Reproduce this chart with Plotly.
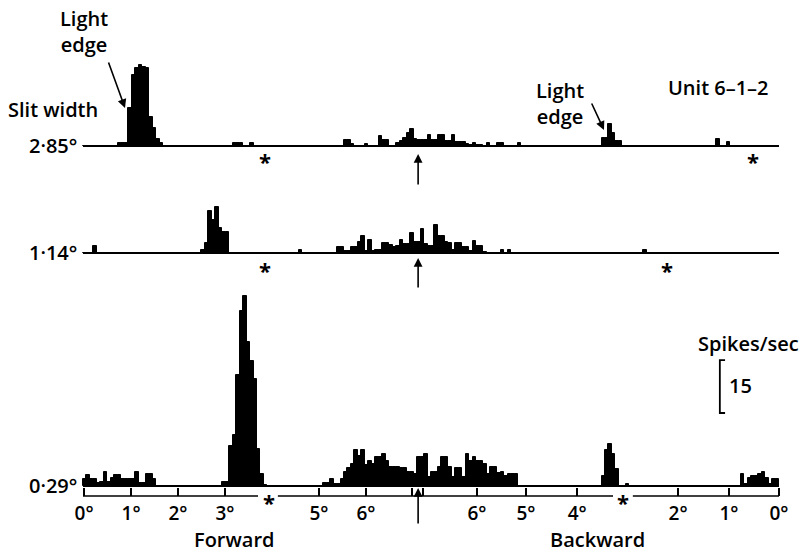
import plotly.graph_objects as go

# ---------------- data ----------------
N_BINS = 200
bins = list(range(N_BINS))

slit_labels = ["2·85°", "1·14°", "0·29°"]

# firing rate (spikes/sec) per time bin, forward sweep then backward sweep
rate_285 = [
    0, 0, 0, 0, 0, 0, 0, 0, 0, 0, 0.9, 0.9, 0.9, 10.8, 20, 22, 23, 22.5, 22, 8.2,
    5.1, 2, 0.9, 0, 0, 0, 0, 0, 0, 0, 0, 0, 0, 0, 0, 0, 0, 0, 0, 0,
    0, 0, 0, 0.9, 0.9, 0.9, 0, 0, 0.9, 0, 0, 0, 0, 0, 0, 0, 0, 0, 0, 0,
    0, 0, 0, 0, 0, 0, 0, 0, 0, 0, 0, 0, 0, 0, 0, 1.7, 1.7, 0.7, 0, 0,
    0, 0.7, 0, 0, 0, 2.8, 1.6, 1.6, 0, 0, 0.9, 1.5, 2.4, 3.8, 4.9, 1.9, 1.6, 1.6, 1.6, 3.0,
    1.6, 1.6, 3.0, 3.0, 1.4, 1.4, 3.0, 1.1, 1.1, 1.1, 0.7, 0.3, 0.9, 0.3, 0.3, 0, 0.9, 0, 0, 0.9,
    0.9, 0, 0, 0, 0, 0.9, 0, 0, 0, 0, 0, 0, 0, 0, 0, 0, 0, 0, 0, 0,
    0, 0, 0, 0, 0, 0, 0, 0, 0, 2.4, 2.4, 6.1, 3.8, 1.4, 1.4, 0, 0, 0, 0, 0,
    0, 0, 0, 0, 0, 0, 0, 0, 0, 0, 0, 0, 0, 0, 0, 0, 0, 0, 0, 0,
    0, 0, 2, 0, 0, 1, 0, 0, 0, 0, 0, 0, 0, 0, 0, 0, 0, 0, 0, 0,
]
rate_114 = [
    0, 0, 0, 1.9, 0, 0, 0, 0, 0, 0, 0, 0, 0, 0, 0, 0, 0, 0, 0, 0,
    0, 0, 0, 0, 0, 0, 0, 0, 0, 0, 0, 0, 0, 0, 0.9, 2.8, 11.9, 9.3, 13, 7.2,
    6, 6, 0, 0, 0, 0, 0, 0, 0, 0, 0, 0, 0, 0, 0, 0, 0, 0, 0, 0,
    0, 0, 0.8, 0, 0, 0, 0, 0, 0, 0, 0, 0, 0, 1.6, 1.6, 0.7, 0.7, 1.8, 1.8, 3.0,
    4.9, 0.5, 3.7, 0.7, 0.9, 0.9, 2.7, 2.7, 2.2, 1.8, 2.1, 3.7, 2.5, 2.5, 5.8, 3.0, 3.0, 6.8, 2.5, 2.1,
    2.1, 8, 4.9, 4.9, 3.0, 2.7, 0.9, 2.7, 2.7, 1.6, 1.8, 0.5, 3.5, 2.1, 2.1, 0.3, 0, 0, 0, 0,
    0.9, 0, 0.9, 0, 0, 0, 0, 0, 0, 0, 0, 0, 0, 0, 0, 0, 0, 0, 0, 0,
    0, 0, 0, 0, 0, 0, 0, 0, 0, 0, 0, 0, 0, 0, 0, 0, 0, 0, 0, 0,
    0, 0.9, 0, 0, 0, 0, 0, 0, 0, 0, 0, 0, 0, 0, 0, 0, 0, 0, 0, 0,
    0, 0, 0, 0, 0, 0, 0, 0, 0, 0, 0, 0, 0, 0, 0, 0, 0, 0, 0, 0,
]
rate_029 = [
    1.9, 3.0, 2.1, 2.1, 0.9, 1.1, 4.1, 1.1, 2.4, 3.1, 3.1, 1.9, 1.9, 1.9, 1.9, 4.1, 0.8, 0.8, 3.3, 3.3,
    2.1, 0, 0, 0, 0, 0, 0, 0, 0, 0, 0, 0, 0, 0, 0, 0, 0, 0, 0, 0,
    1.1, 1.1, 11.3, 14.4, 31.4, 49.6, 53.8, 40.8, 35.4, 30.4, 10.4, 3.3, 0.3, 0, 0, 0, 0, 0, 0, 0,
    0, 0, 0, 0, 0, 0, 0, 0, 0, 0.9, 0.9, 2.0, 0.5, 0.5, 1.9, 4.1, 5.0, 6.2, 10.2, 8.5,
    10.2, 6.0, 7.2, 6.2, 8.1, 8.1, 9.1, 7.2, 5.3, 5.3, 5.3, 5.0, 5.0, 4.1, 4.1, 3.4, 8.1, 8.1, 9.1, 2.5,
    4.1, 4.1, 5.3, 8.1, 8.1, 5.3, 2.5, 5.0, 5.0, 2.6, 9.1, 7.2, 8.1, 7.2, 7.2, 6.2, 3.4, 5.3, 5.3, 3.6,
    4.1, 2.8, 3.4, 3.3, 3.3, 0, 0, 0, 0, 0, 0, 0, 0, 0, 0, 0, 0, 0, 0, 0,
    0, 0, 0, 0, 0, 0, 0, 0, 0, 2.8, 10.1, 11.9, 9.0, 4.7, 0, 0, 0.5, 0, 0, 0,
    0, 0, 0, 0, 0, 0, 0, 0, 0, 0, 0, 0, 0, 0, 0, 0, 0, 0, 0, 0,
    0, 0, 0, 0, 0, 0, 0, 0, 0, 3.3, 0.7, 2.4, 2.8, 2.8, 3.5, 4.1, 2.4, 0.7, 2.1, 2.1,
]

# slit position (degrees) ticks, in time-bin units
tick_bins = [0.3, 13.8, 27.3, 40.8, 67.8, 81.3, 94.5, 97.7, 113.2, 127.3, 142.0, 171.0, 185.6, 200]
tick_text = ["0°", "1°", "2°", "3°", "5°", "6°", "", "", "6°", "5°", "4°", "2°", "1°", "0°"]
reversal_bin = 96.3
star_bins = [[52.3, 192.5], [52.3, 167.8], [53.4, 155.2]]
scale_value = 15

# ---------------- layout constants ----------------
W, H = 799, 555
LEFT_PX = 83.0
PX_PER_BIN = 3.48
PX_PER_UNIT = 3.53
baselines_px = [146, 253, 486]
axis_px = 496
FONT = "Open Sans"
BLACK = "#000000"
FS = 20


def xp(px):
    return px / W


def yp(py):
    return 1 - py / H


rates = [rate_285, rate_114, rate_029]
yrefs = ["y", "y2", "y3"]
fig = go.Figure()
for r, yr in zip(rates, yrefs):
    fig.add_trace(go.Bar(
        x=[b + 0.5 for b in bins], y=r, width=1.0, yaxis=yr,
        marker=dict(color=BLACK, line=dict(color=BLACK, width=1)),
        hoverinfo="skip", showlegend=False,
    ))

shapes = []
for yr in yrefs:
    shapes.append(dict(type="line", xref="x", yref=yr, x0=0, x1=N_BINS, y0=0, y1=0,
                       line=dict(color=BLACK, width=2)))

# bottom degree scale line with gaps at the asterisks
axis_y = -(axis_px - baselines_px[2]) / PX_PER_UNIT
gaps = [(50.3, 56.0), (152.3, 158.0)]
segs = [(0, gaps[0][0]), (gaps[0][1], gaps[1][0]), (gaps[1][1], N_BINS)]
for a, b in segs:
    shapes.append(dict(type="line", xref="x", yref="y3", x0=a, x1=b, y0=axis_y, y1=axis_y,
                       line=dict(color=BLACK, width=1.5)))

# scale bar 15 spikes/sec
sb_x = 183.0
sb_y0 = (486 - 413) / PX_PER_UNIT
sb_y1 = sb_y0 + scale_value
shapes.append(dict(type="path", xref="x", yref="y3",
                   path=f"M {sb_x + 1.5},{sb_y1} L {sb_x},{sb_y1} L {sb_x},{sb_y0} L {sb_x + 1.5},{sb_y0}",
                   line=dict(color=BLACK, width=1.8)))

ann = []
tf = dict(family=FONT, size=19, color=BLACK, weight=600)


def text(px, py, s, xanchor="center", yanchor="middle", size=FS):
    ann.append(dict(x=xp(px), y=yp(py), xref="paper", yref="paper", text=s, showarrow=False,
                    xanchor=xanchor, yanchor=yanchor,
                    font=dict(family=FONT, size=size, color=BLACK, weight=600)))


text(84, 32, "Light<br>edge")
text(560, 104, "Light<br>edge")
text(718, 88, "Unit 6–1–2")
text(53, 110, "Slit width")
for lab, b in zip(slit_labels, baselines_px):
    text(79, b - 1, lab, xanchor="right")
text(748, 343, "Spikes/sec")
text(727, 385, str(scale_value), xanchor="left")
text(234, 555, "Forward", yanchor="bottom")
text(597, 555, "Backward", yanchor="bottom")

# asterisks
star_py = [158, 267, 499]
for sb, spy in zip(star_bins, star_py):
    for s in sb:
        px = LEFT_PX + s * PX_PER_BIN
        ann.append(dict(x=xp(px), y=yp(spy + 3), xref="paper", yref="paper", text="*", showarrow=False,
                        xanchor="center", yanchor="middle",
                        font=dict(family=FONT, size=22, color=BLACK, weight=700)))

# pointer arrows for light edges
ann.append(dict(x=xp(125), y=yp(108), xref="paper", yref="paper", text="", showarrow=True,
                ax=-17, ay=-47, arrowhead=2, arrowsize=1.1, arrowwidth=1.6, arrowcolor=BLACK))
ann.append(dict(x=xp(604), y=yp(130), xref="paper", yref="paper", text="", showarrow=True,
                ax=-13, ay=-28, arrowhead=2, arrowsize=1.1, arrowwidth=1.6, arrowcolor=BLACK))

# reversal arrows below each row: (row, head px below baseline, arrow length px)
heads = [(0, 8, 32), (1, 5, 31), (2, 2, 37)]
for i, hd, length in heads:
    ann.append(dict(x=reversal_bin, y=-hd / PX_PER_UNIT, xref="x", yref=yrefs[i], text="", showarrow=True,
                    ax=0, ay=length, arrowhead=2, arrowsize=1.1, arrowwidth=1.6, arrowcolor=BLACK))

layout_axes = {}
for i, yr in enumerate(yrefs):
    b = baselines_px[i]
    key = "yaxis" if i == 0 else f"yaxis{i + 1}"
    d = dict(domain=[0, 1], range=[-(H - b) / PX_PER_UNIT, b / PX_PER_UNIT], visible=False, fixedrange=True)
    if i > 0:
        d["overlaying"] = "y"
    layout_axes[key] = d

fig.update_layout(
    width=W, height=H, margin=dict(l=0, r=0, t=0, b=0),
    paper_bgcolor="white", plot_bgcolor="white",
    barmode="overlay", bargap=0, showlegend=False,
    xaxis=dict(range=[-LEFT_PX / PX_PER_BIN, (W - LEFT_PX) / PX_PER_BIN], domain=[0, 1],
               anchor="free", position=yp(axis_px), showgrid=False, zeroline=False, showline=False,
               tickmode="array", tickvals=tick_bins, ticktext=tick_text,
               ticks="inside", ticklen=8, tickwidth=1.5, tickcolor=BLACK,
               ticklabelstandoff=4, tickfont=tf, fixedrange=True),
    shapes=shapes, annotations=ann, **layout_axes,
)

fig.write_html("out.html", config={"displayModeBar": False},
               post_script="document.body.style.margin='0';document.body.style.overflow='hidden';")
